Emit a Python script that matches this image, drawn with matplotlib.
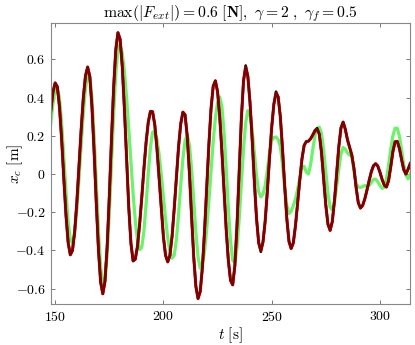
import matplotlib
matplotlib.use('Agg')
import matplotlib.pyplot as plt
from matplotlib.ticker import FuncFormatter

plt.rcParams['mathtext.fontset'] = 'cm'
plt.rcParams['font.family'] = 'serif'
plt.rcParams['font.serif'] = ['cmr10', 'DejaVu Serif']
plt.rcParams['axes.formatter.use_mathtext'] = True

# time axis [s], one sample per second
t = list(range(147, 315))

# x_c of the model (dark red)
x_red = [
    0.22, 0.33, 0.43, 0.477,                                      # 147-150
    0.457, 0.351, 0.180, -0.024, -0.216, -0.359, -0.423,          # 151-157
    -0.400, -0.304, -0.150, 0.038, 0.231, 0.399, 0.514, 0.560,    # 158-165
    0.511, 0.351, 0.114, -0.154, -0.397, -0.566, -0.627,          # 166-172
    -0.563, -0.382, -0.119, 0.177, 0.451, 0.651, 0.740,           # 173-179
    0.706, 0.562, 0.338, 0.075, -0.175, -0.363, -0.455,           # 180-186
    -0.446, -0.379, -0.265, -0.123, 0.028, 0.166, 0.271, 0.328,   # 187-194
    0.326, 0.259, 0.136, -0.021, -0.186, -0.329, -0.426, -0.460,  # 195-202
    -0.425, -0.326, -0.180, -0.015, 0.143, 0.263, 0.324,          # 203-209
    0.310, 0.198, 0.008, -0.219, -0.434, -0.589, -0.652,          # 210-216
    -0.615, -0.490, -0.298, -0.070, 0.155, 0.343, 0.460,          # 217-223
    0.488, 0.432, 0.301, 0.120, -0.088, -0.290, -0.454, -0.557,   # 224-231
    -0.580, -0.480, -0.263, 0.017, 0.290, 0.488, 0.560,           # 232-238
    0.511, 0.374, 0.178, -0.039, -0.231, -0.360, -0.400,          # 239-245
    -0.355, -0.247, -0.090, 0.083, 0.243, 0.365, 0.423,           # 246-252
    0.404, 0.300, 0.133, -0.060, -0.234, -0.353, -0.390,          # 253-259
    -0.360, -0.270, -0.150, -0.030, 0.080, 0.150, 0.170, 0.172,   # 260-267
    0.185, 0.205, 0.225, 0.234,                                   # 268-271
    0.209, 0.114, -0.023, -0.163, -0.263, -0.295,                 # 272-277
    -0.249, -0.140, 0.004, 0.142, 0.241, 0.272,                   # 278-283
    0.235, 0.180, 0.140, 0.100, 0.030, -0.070, -0.150, -0.178,    # 284-291
    -0.165, -0.131, -0.085, -0.035, 0.011, 0.043, 0.054,          # 292-298
    0.042, 0.010, -0.028, -0.058, -0.068,                         # 299-303
    -0.035, 0.038, 0.118, 0.169, 0.171, 0.134, 0.076, 0.023,      # 304-311
    0.000, 0.025, 0.055,                                          # 312-314
]

# reference x_c (black), same as the red one except at a few extrema
x_black = list(x_red)
black_tips = {238: 0.568, 245: -0.407, 252: 0.431, 270: 0.229, 271: 0.240}
for tt, v in black_tips.items():
    x_black[t.index(tt)] = v

# second response (light green)
x_green = [
    0.15, 0.27, 0.37, 0.44,                                       # 147-150
    0.453, 0.395, 0.266, 0.091, -0.092, -0.248, -0.345,           # 151-157
    -0.361, -0.305, -0.187, -0.026, 0.151, 0.317, 0.448, 0.516,   # 158-165
    0.511, 0.398, 0.196, -0.054, -0.298, -0.485, -0.575,          # 166-172
    -0.552, -0.423, -0.210, 0.050, 0.310, 0.520, 0.652,           # 173-179
    0.677, 0.632, 0.537, 0.400, 0.236, 0.062, -0.104,             # 180-186
    -0.243, -0.346, -0.396, -0.385, -0.299, -0.157, 0.003,        # 187-193
    0.140, 0.219, 0.225, 0.184, 0.105, 0.000, -0.118, -0.235,     # 194-201
    -0.335, -0.407, -0.441, -0.425, -0.343, -0.210, -0.057,       # 202-208
    0.081, 0.176, 0.205, 0.154, 0.030, -0.137, -0.305, -0.436,    # 209-216
    -0.493, -0.477, -0.406, -0.290, -0.142, 0.018, 0.170,         # 217-223
    0.294, 0.374, 0.403, 0.355, 0.220, 0.028, -0.177, -0.350,     # 224-231
    -0.452, -0.463, -0.385, -0.235, -0.049, 0.132, 0.269, 0.332,  # 232-239
    0.311, 0.231, 0.113, -0.007, -0.093, -0.120,                  # 240-245
    -0.105, -0.060, 0.020, 0.110, 0.175, 0.192, 0.194, 0.180,     # 246-253
    0.145, 0.051, -0.067, -0.165, -0.207,                         # 254-258
    -0.195, -0.165, -0.130, -0.080, -0.020, 0.035, 0.040, 0.010,  # 259-266
    0.000, 0.050, 0.130, 0.200, 0.238, 0.246,                     # 267-272
    0.214, 0.127, 0.010, -0.101, -0.174, -0.188,                  # 273-278
    -0.147, -0.067, 0.026, 0.103, 0.139,                          # 279-283
    0.130, 0.110, 0.100, 0.095, 0.020, -0.050, -0.068, -0.070,    # 284-291
    -0.066, -0.060, -0.065, -0.060, -0.045, -0.028, -0.027,       # 292-298
    -0.040, -0.060, -0.075, -0.070, -0.025,                       # 299-303
    0.047, 0.130, 0.200, 0.240, 0.240, 0.198, 0.126, 0.050,       # 304-311
    -0.007, -0.025, 0.000,                                        # 312-314
]

title = r'$\max(|F_{ext}|) = 0.6\ [\mathbf{N}],\ \gamma = 2\ ,\ \gamma_f = 0.5$'

fig = plt.figure(figsize=(4.15, 3.45), dpi=100)
ax = fig.add_axes([0.123, 0.119, 0.865, 0.814])

ax.plot(t, x_green, color='#6cf26c', lw=2.3)
ax.plot(t, x_black, color='black', lw=1.9)
ax.plot(t, x_red, color='#ff3030', lw=2.5, alpha=0.4)
ax.plot(t, x_red, color='#800000', lw=1.9)

ax.set_xlim(148.1, 313.9)
ax.set_ylim(-0.68, 0.79)
ax.set_xticks([150, 200, 250, 300])
ax.set_yticks([-0.6, -0.4, -0.2, 0, 0.2, 0.4, 0.6])
fmt = FuncFormatter(lambda v, p: r'$%g$' % round(v, 2))
ax.xaxis.set_major_formatter(fmt)
ax.yaxis.set_major_formatter(fmt)
ax.tick_params(direction='in', top=True, right=True, length=3,
               width=0.7, color='#777777', labelsize=10, pad=4)
for s in ax.spines.values():
    s.set_color('#888888')
    s.set_linewidth(0.8)

ax.set_xlabel(r'$t\ [\mathrm{s}]$', fontsize=11, labelpad=1)
ax.set_ylabel(r'$x_c\ [\mathrm{m}]$', fontsize=11)
ax.yaxis.set_label_coords(-0.072, 0.5)
ax.set_title(title, fontsize=11.3, pad=4)

fig.savefig('out.png', dpi=100)
